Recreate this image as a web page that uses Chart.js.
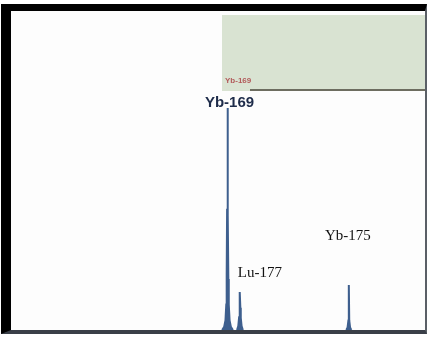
<!DOCTYPE html>
<html>
<head>
<meta charset="utf-8">
<script src="https://cdn.jsdelivr.net/npm/chart.js@4/dist/chart.umd.min.js"></script>
<style>
  html, body { margin: 0; padding: 0; background: #fff; }
  #frame {
    position: absolute; left: 1px; top: 4px;
    width: 414px; height: 319px;
    border-left: 10px solid #000;
    border-top: 7px solid #000;
    border-right: 2px solid #5a5f66;
    border-bottom: 4px solid #3a3f48;
    background: #fdfdfd;
  }
  #spectrum { display: block; }
</style>
</head>
<body>
<div id="frame"><canvas id="spectrum" width="414" height="319"></canvas></div>
<script>
// gamma spectrum (channel / counts), null = gap between peaks
const channels = [510, 515, 518, 520, 521, 522, 523, 524, 525, 526, 528, 531, 536,
                  540,
                  546, 549, 551, 552, 553, 554, 555, 557, 560,
                  700,
                  810, 813, 815, 816, 817, 819, 822];
const counts   = [0, 10, 30, 80, 170, 380, 696, 360, 160, 80, 30, 10, 0,
                  null,
                  0, 12, 40, 75, 119, 70, 38, 12, 0,
                  null,
                  0, 8, 30, 141, 30, 8, 0];

const peakNames    = ['Yb-169', 'Lu-177', 'Yb-175'];
const peakChannels = [523, 553, 816];
const peakCounts   = [696, 119, 141];

const PEAK_BLUE = '#3e5f8e';

// label styling per peak (offsets in px from the peak top)
const labelStyle = [
    { font: 'bold 15px "Liberation Sans", Arial, sans-serif', color: '#1e2c4a', dx: 2, dy: 2 },
    { font: '15px "Liberation Serif", "Times New Roman", serif', color: '#111', dx: 20, dy: -11 },
    { font: '15px "Liberation Serif", "Times New Roman", serif', color: '#111', dx: -1, dy: -41 }
];

const insetPlugin = {
    id: 'inset',
    beforeDatasetsDraw(chart) {
        const ctx = chart.ctx;
        ctx.save();
        // pale green inset panel in the upper right
        ctx.fillStyle = '#d9e3d2';
        ctx.fillRect(211, 4, 203, 76);
        // its tiny spectrum baseline
        ctx.fillStyle = '#6d6d60';
        ctx.fillRect(239, 78, 175, 2);
        ctx.fillStyle = '#b25a5a';
        ctx.font = 'bold 8px "Liberation Sans", sans-serif';
        ctx.textAlign = 'left';
        ctx.textBaseline = 'middle';
        ctx.fillText('Yb-169', 214, 70);
        ctx.restore();
    },
    afterDatasetsDraw(chart) {
        const ctx = chart.ctx;
        const xs = chart.scales.x, ys = chart.scales.y;
        ctx.save();
        ctx.textAlign = 'center';
        ctx.textBaseline = 'bottom';
        peakNames.forEach((name, i) => {
            const st = labelStyle[i];
            ctx.font = st.font;
            ctx.fillStyle = st.color;
            ctx.fillText(name, xs.getPixelForValue(peakChannels[i]) + st.dx,
                         ys.getPixelForValue(peakCounts[i]) + st.dy);
        });
        ctx.restore();
    }
};

new Chart(document.getElementById('spectrum'), {
    type: 'line',
    data: {
        datasets: [{
            data: channels.map((c, i) => ({ x: c, y: counts[i] })),
            borderColor: PEAK_BLUE,
            backgroundColor: PEAK_BLUE,
            borderWidth: 2,
            fill: 'origin',
            pointRadius: 0,
            tension: 0,
            spanGaps: false
        }]
    },
    options: {
        responsive: false,
        animation: false,
        layout: { padding: 0 },
        plugins: { legend: { display: false }, tooltip: { enabled: false } },
        scales: {
            x: { type: 'linear', min: 0, max: 1000, display: false },
            y: { min: 0, max: 1000, display: false }
        }
    },
    plugins: [insetPlugin]
});
</script>
</body>
</html>
